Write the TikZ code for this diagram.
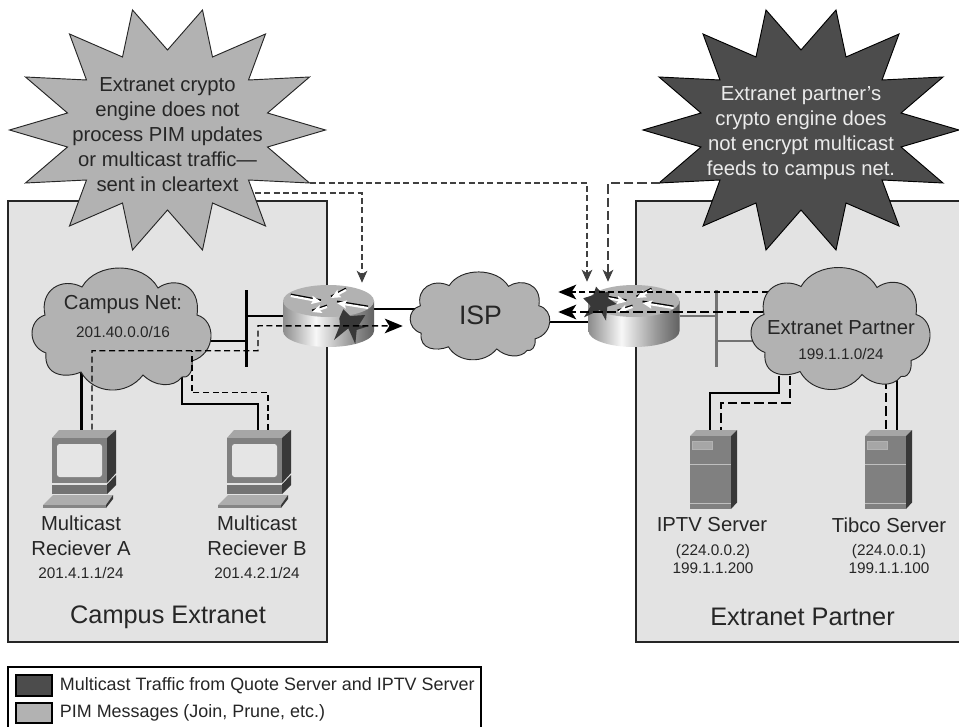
\documentclass[tikz,border=0pt]{standalone}
\usepackage{fontspec}
\setmainfont{Liberation Sans}
\usepackage{tikz}
\usetikzlibrary{arrows.meta,positioning,calc}
\pgfdeclarehorizontalshading{rtrside}{100bp}{color(0bp)=(black!45); color(25bp)=(black!45); color(43bp)=(black!3); color(62bp)=(black!40); color(75bp)=(black!62); color(100bp)=(black!62)}

\begin{document}
\begin{tikzpicture}[
    x=0.75pt, y=-0.75pt,
    every node/.style={text=black!85},
    spot/.style n args={2}{inner sep=0pt, minimum width=#1*0.75pt, minimum height=#2*0.75pt},
    panel/.style={draw=black!85, line width=0.9pt, fill=black!11},
    bar/.style={fill=black, text=black},
    link/.style={line width=1.7pt, line cap=butt},
    pim/.style={line width=1.1pt, dash pattern=on 4.5pt off 2.7pt},
    feed/.style={line width=1.1pt, dash pattern=on 7pt off 3pt},
    note/.style={line width=0.8pt, black!75, dash pattern=on 4.5pt off 2.5pt},
    big/.style={font=\fontsize{15.2}{18.75}\selectfont, align=center},
    tiny/.style={font=\fontsize{11.5}{13.5}\selectfont, align=center},
    title/.style={font=\fontsize{19}{22}\selectfont},
    burstshape/.pic={
        \draw[pic actions, line width=0.7pt, miter limit=20] (-35,-120) -- (0,-80) -- (35,-120) -- (45,-73) -- (98,-96) -- (81,-50) -- (142,-53) -- (100,-17) -- (158,0) -- (100,17) -- (142,53) -- (81,50) -- (98,96) -- (45,73) -- (35,120) -- (0,80) -- (-35,120) -- (-45,73) -- (-98,96) -- (-81,50) -- (-142,53) -- (-100,17) -- (-158,0) -- (-100,-17) -- (-142,-53) -- (-81,-50) -- (-98,-96) -- (-45,-73) -- cycle;
    },
    cloudshape/.pic={
        \draw[fill=black!30, draw=black!85, line width=0.7pt] (-39.5,-41.5) .. controls (-25,-67) and (22,-67) .. (36.5,-40.5)
            .. controls (52,-52) and (80,-45) .. (75.5,-13.5)
            .. controls (95,-8) and (95,25) .. (70.5,32.5)
            .. controls (72,44) and (66,50) .. (60.5,48.5)
            .. controls (52,60) and (33,58) .. (21.5,46.5)
            .. controls (5,68) and (-28,66) .. (-40.5,43.5)
            .. controls (-55,50) and (-78,48) .. (-75.5,24.5)
            .. controls (-94,18) and (-94,-8) .. (-76.5,-13.5)
            .. controls (-82,-38) and (-60,-52) .. (-39.5,-41.5) -- cycle;
    },
    routershape/.pic={
        \shade[shading=rtrside] (-45.5,-15) -- (-45.5,15) .. controls (-45.5,24) and (-25,31) .. (0,31) .. controls (25,31) and (45.5,24) .. (45.5,15) -- (45.5,-15) -- cycle;
        \fill[black!30] (0,-15) ellipse [x radius=45.5, y radius=16];
        \foreach \ax/\ay/\bx/\by in {-37.8/-20/-7.5/-14.3, 17.5/-26/2.5/-18, 39.5/-8/8.5/-13, -1.5/-9/-16.5/-4} {
            \draw[black, line width=1.4pt] (\ax,\ay-1.5) -- (\bx,\by-1.5);
            \draw[white, line width=1.6pt, -{Stealth[length=7pt,width=6pt,inset=1pt]}] (\ax,\ay) -- (\bx,\by);
        }
    },
    pcshape/.pic={
        \fill[black!35] (-27.5,-31) -- (-20.5,-39) -- (36.5,-39) -- (27.5,-31) -- cycle;
        \fill[black!78] (27.5,-31) -- (36.5,-39) -- (36.5,4) -- (27.5,14) -- cycle;
        \fill[black!50] (-27.5,-31) rectangle (27.5,14);
        \fill[black!10, rounded corners=2pt] (-22.5,-25) rectangle (22.5,8);
        \fill[black!55] (-27.5,15.5) rectangle (27.5,25);
        \fill[black!78] (27.5,15.5) -- (36.5,6) -- (36.5,16) -- (27.5,25) -- cycle;
        \fill[black!32] (-36.5,36) -- (-26.5,26) -- (33.5,26) -- (26.5,36) -- cycle;
        \fill[black!48] (-36.5,36) rectangle (26.5,39);
        \fill[black!78] (26.5,36) -- (33.5,26) -- (33.5,30) -- (26.5,39) -- cycle;
    },
    servershape/.pic={
        \fill[black!35] (-23.5,-33.5) -- (-17.5,-39.5) -- (23.5,-39.5) -- (17.5,-33.5) -- cycle;
        \fill[black!78] (17.5,-33.5) -- (23.5,-39.5) -- (23.5,33) -- (17.5,39.5) -- cycle;
        \fill[black!50] (-23.5,-33.5) rectangle (17.5,39.5);
        \draw[black!30, fill=black!35, line width=0.6pt] (-21.5,-28.5) rectangle (-1.5,-20.5);
        \draw[black!25, line width=0.7pt] (-23.5,-5.5) -- (17.5,-5.5);
        \draw[black!25, line width=0.7pt] (-23.5,33.5) -- (17.5,33.5);
    },
]
    \clip (0,0) rectangle (959,727);

    % PANELS
    \node[panel, spot={319}{441}] (campusNet) at (167.5,421.5) {};
    \node[panel, spot={334}{441}] (partnerNet) at (803,421.5) {};

    % BURSTS
    \pic[fill=black!30, draw=black!85] at (167.5,130) {burstshape};
    \pic[fill=black!70, draw=black] at (801,130) {burstshape};
    \node[big] (burstA) at (167.5,135) {Extranet crypto\\engine does not\\process PIM updates\\or multicast traffic—\\sent in cleartext};
    \node[big, text=black!8] (burstB) at (801,133.5) {Extranet partner’s\\crypto engine does\\not encrypt multicast\\feeds to campus net.};

    % DEVICES (empty boxes, the links go by them)
    \node[spot={177}{121}] (campus) at (121.5,328.5) {};
    \node[spot={138}{87}] (isp) at (480,315.5) {};
    \node[spot={177}{121}] (extra) at (840.5,328) {};
    \node[spot={91}{62}] (rtrA) at (328.5,316) {};
    \node[spot={92}{62}] (rtrB) at (634,316) {};
    \node[spot={73}{78}] (pcA) at (79.5,469) {};
    \node[spot={73}{78}] (pcB) at (254.5,469) {};
    \node[spot={47}{79}] (srvA) at (713.5,469.5) {};
    \node[spot={47}{79}] (srvB) at (888.5,469.5) {};
    \node[bar, spot={3}{77}] (barA) at (246.3,328.5) {};
    \node[bar, spot={3}{77}, fill=black!55] (barB) at (716.7,328.5) {};

    % LINKS
    \draw[link] ($(campus.south)+(-40,-17)$) -- ($(pcA.north)+(2,0)$);
    \draw[link] ($(campus.south)+(60.5,-17)$) -- ++(0,32) -| ($(pcB.north)+(3.8,0)$);
    \draw[link] (barA |- rtrA.west) -- (rtrA.west);
    \draw[link] ($(barA.center)+(0,12.5)$) -- ($(campus.east)+(-5,12.5)$);
    \draw[link] ($(rtrA.east)+(0,-7)$) -- ($(isp.west)+(6,-6.5)$);
    \draw[link] ($(isp.east)+(-6,6.5)$) -- ($(rtrB.west)+(0,6)$);
    \draw[link, black!55] (barB |- rtrB.east) -- (rtrB.east);
    \draw[link, black!55] ($(barB.center)+(0,12.5)$) -- ($(extra.west)+(8,13)$);
    \draw[link] ($(extra.south)+(-61.5,-13)$) -- ++(0,17) -| ($(srvA.north)+(-3.5,0)$);
    \draw[link] ($(extra.south)+(56.5,-9)$) -- ($(srvB.north)+(8.5,0)$);
    \draw[feed] ($(extra.south)+(-50.5,-13)$) -- ++(0,27) -| ($(srvA.north)+(7.5,0)$);
    \draw[feed] ($(extra.south)+(45.5,-9)$) -- ($(srvB.north)+(-2.5,0)$);

    % DEVICE PICTURES
    \pic at (campus) {cloudshape};
    \pic[xscale=0.78, yscale=0.72] at (isp) {cloudshape};
    \pic at (rtrA) {routershape};
    \pic at (rtrB) {routershape};
    \pic at (pcA) {pcshape};
    \pic at (pcB) {pcshape};
    \pic at (srvA) {servershape};
    \pic at (srvB) {servershape};
    \fill[black!78, shift={(rtrA)}] (14.8,-6.7) -- (21.5,0) -- (36.8,-1) -- (30.5,9) -- (38.2,10.7) -- (28.2,14) -- (26.8,28) -- (19.8,12.3) -- (5.5,24) -- (11.5,9) -- (10.8,2.3) -- cycle;
    \fill[black!78, shift={(rtrB)}] (-50.7,-17.7) -- (-40.7,-21) -- (-38,-29.3) -- (-31.7,-22.7) -- (-24,-25) -- (-25.7,-17.7) -- (-17.3,-12) -- (-26.7,-9.3) -- (-28,4.7) -- (-34,-6) -- (-50,1.3) -- (-43.3,-10) -- cycle;

    % TRAFFIC
    \draw[pim] ($(pcB.north)+(13.5,0)$) -- ++(0,-37) -| ($(campus.south)+(70.5,-38)$);
    \draw[pim, -{Stealth[length=13.5pt,width=11pt,inset=3.5pt]}] ($(pcA.north)+(12.5,0)$) -- ++(0,-79) -| ++(166,-25) -- ($(isp.west)+(-8,10.5)$);
    \draw[pim, -{Stealth[length=13.5pt,width=11pt,inset=3.5pt]}] ($(extra.west)+(16,-36)$) -- ($(isp.east)+(9,-23.5)$);
    \draw[feed, -{Stealth[length=13.5pt,width=11pt,inset=3.5pt]}] ($(extra.west)+(11,-16)$) -- ($(isp.east)+(9,-3.5)$);
    \pic at (extra) {cloudshape};

    % NOTES
    \coordinate (noteA) at (310,183);
    \coordinate (noteB) at (255,193);
    \coordinate (noteC) at (660,183);
    \draw[note, -{Stealth[length=9pt,width=8pt,inset=2.5pt]}] (noteB) -| ($(rtrA.north)+(33.5,-2)$);
    \draw[note, -{Stealth[length=9pt,width=8pt,inset=2.5pt]}] (noteA) -| ($(rtrB.north)+(-47,-3)$);
    \draw[note, dash pattern=on 7pt off 3pt, -{Stealth[length=9pt,width=8pt,inset=2.5pt]}] (noteC) -| ($(rtrB.north)+(-26,-3)$);

    % LABELS
    \node[big] (lblA) at (81,536) {Multicast\\Reciever A};
    \node[big] (lblB) at (257,536) {Multicast\\Reciever B};
    \node[tiny] (ipA) at (81,573) {201.4.1.1/24};
    \node[tiny] (ipB) at (257,573) {201.4.2.1/24};
    \node[title] (lblCampus) at (168,617) {Campus Extranet};
    \node[big] (lblNet) at (123,305) {Campus Net:};
    \node[tiny] (ipNet) at (123,332) {201.40.0.0/16};
    \node[title, font=\fontsize{20}{22}\selectfont] (lblIsp) at (480.5,315) {ISP};
    \node[big] (lblExtra) at (841,328) {Extranet Partner};
    \node[tiny] (ipExtra) at (841,354) {199.1.1.0/24};
    \node[big] (lblIptv) at (712,525) {IPTV Server};
    \node[tiny] (ipIptv) at (713,559) {(224.0.0.2)\\199.1.1.200};
    \node[big] (lblTibco) at (889,525) {Tibco Server};
    \node[tiny] (ipTibco) at (889,559) {(224.0.0.1)\\199.1.1.100};
    \node[title] (lblPartner) at (802.5,617) {Extranet Partner};

    % LEGEND
    \node[draw=black, line width=0.8pt, fill=white, spot={473}{68}] (legend) at (244.5,701) {};
    \node[draw=black, line width=0.8pt, fill=black!70, spot={36}{21}] (keyA) at (34,685.5) {};
    \node[draw=black, line width=0.8pt, fill=black!30, spot={36}{20}] (keyB) at (34,713) {};
    \node[font=\fontsize{13.45}{15}\selectfont, right=2pt of keyA] (txtA) {Multicast Traffic from Quote Server and IPTV Server};
    \node[font=\fontsize{13.45}{15}\selectfont, right=2pt of keyB] (txtB) {PIM Messages (Join, Prune, etc.)};
\end{tikzpicture}
\end{document}
